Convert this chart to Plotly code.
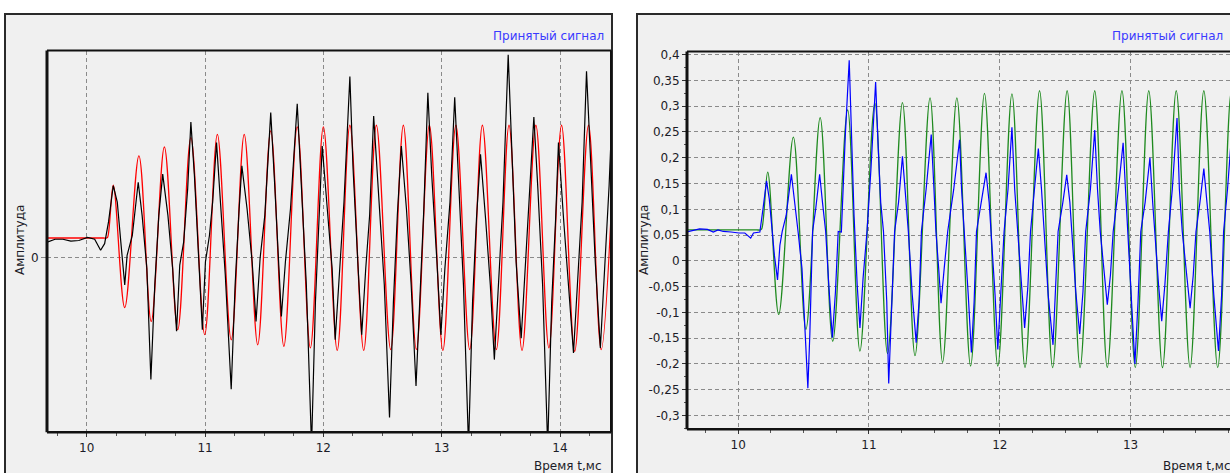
import plotly.graph_objects as go

# ---------------- left panel: reference (red) and received (black) ----------------
red_t = [9.664, 10.140, 10.165, 10.176, 10.224, 10.321, 10.441, 10.545, 10.656, 10.769,
         10.880, 10.997, 11.104, 11.221, 11.331, 11.445, 11.555, 11.666, 11.779, 11.890,
         12.000, 12.117, 12.224, 12.341, 12.448, 12.569, 12.676, 12.786, 12.896, 13.010,
         13.120, 13.237, 13.344, 13.462, 13.569, 13.679, 13.796, 13.906, 14.013, 14.124,
         14.241, 14.348, 14.465]
red_v = [0.062, 0.062, 0.062, 0.064, 0.230, -0.159, 0.323, -0.203, 0.351, -0.229,
         0.381, -0.245, 0.391, -0.261, 0.391, -0.277, 0.402, -0.282, 0.415, -0.287,
         0.415, -0.295, 0.420, -0.295, 0.420, -0.292, 0.420, -0.292, 0.420, -0.295,
         0.420, -0.292, 0.420, -0.292, 0.420, -0.295, 0.420, -0.287, 0.420, -0.298,
         0.420, -0.292, 0.420]

black_t = [9.666, 9.732, 9.799, 9.866, 9.933, 10.007, 10.067, 10.117, 10.151, 10.184,
           10.224, 10.258, 10.288, 10.321, 10.341, 10.385, 10.435, 10.468, 10.508, 10.542,
           10.575, 10.609, 10.642, 10.686, 10.726, 10.759, 10.786, 10.819, 10.853, 10.880,
           10.910, 10.943, 10.977, 11.003, 11.037, 11.064, 11.097, 11.130, 11.171, 11.221,
           11.254, 11.288, 11.311, 11.355, 11.398, 11.431, 11.465, 11.505, 11.555, 11.589,
           11.622, 11.645, 11.679, 11.722, 11.779, 11.813, 11.856, 11.900, 11.933, 11.967,
           11.990, 12.033, 12.074, 12.100, 12.134, 12.174, 12.224, 12.251, 12.291, 12.324,
           12.358, 12.391, 12.425, 12.468, 12.515, 12.559, 12.592, 12.625, 12.659, 12.702,
           12.742, 12.783, 12.816, 12.849, 12.883, 12.916, 12.960, 12.993, 13.027, 13.070,
           13.110, 13.144, 13.184, 13.227, 13.261, 13.294, 13.328, 13.371, 13.411, 13.445,
           13.478, 13.518, 13.562, 13.595, 13.629, 13.672, 13.706, 13.746, 13.779, 13.813,
           13.853, 13.896, 13.930, 13.963, 13.987, 14.030, 14.074, 14.114, 14.147, 14.187,
           14.224, 14.258, 14.298, 14.341, 14.375, 14.415, 14.441]
black_v = [0.049, 0.058, 0.058, 0.052, 0.054, 0.064, 0.058, 0.023, 0.044, 0.113,
           0.228, 0.176, 0.049, -0.087, 0.007, 0.070, 0.239, 0.134, -0.035, -0.387,
           -0.087, 0.134, 0.265, 0.134, -0.035, -0.234, -0.024, 0.049, 0.218, 0.430,
           0.260, 0.007, -0.229, -0.014, 0.070, 0.176, 0.365, 0.176, -0.056, -0.418,
           -0.087, 0.155, 0.291, 0.155, -0.014, -0.203, -0.003, 0.134, 0.460, 0.228,
           -0.014, -0.187, -0.014, 0.155, 0.488, 0.218, -0.087, -0.600, -0.140, 0.155,
           0.354, 0.155, -0.035, -0.261, -0.056, 0.176, 0.575, 0.281, -0.014, -0.245,
           -0.035, 0.134, 0.449, 0.176, -0.087, -0.508, -0.140, 0.134, 0.354, 0.155,
           -0.087, -0.408, -0.119, 0.155, 0.523, 0.260, -0.014, -0.245, -0.035, 0.176,
           0.509, 0.218, -0.087, -0.600, -0.140, 0.123, 0.328, 0.123, -0.087, -0.324,
           -0.087, 0.176, 0.644, 0.333, -0.014, -0.256, -0.035, 0.197, 0.446, 0.218,
           -0.087, -0.600, -0.140, 0.123, 0.365, 0.123, -0.087, -0.303, -0.087, 0.176,
           0.591, 0.302, -0.014, -0.287, -0.035, 0.228, 0.470]

# ---------------- right panel: reference (green) and received (blue) ----------------
green_t = [9.608, 10.140, 10.168, 10.180, 10.226, 10.310, 10.422, 10.518, 10.627, 10.723,
           10.837, 10.931, 11.045, 11.142, 11.256, 11.352, 11.467, 11.563, 11.672, 11.777,
           11.883, 11.985, 12.093, 12.193, 12.304, 12.404, 12.515, 12.614, 12.726, 12.822,
           12.934, 13.036, 13.139, 13.244, 13.349, 13.455, 13.560, 13.666, 13.771, 13.877]
green_v = [0.060, 0.060, 0.060, 0.062, 0.172, -0.104, 0.240, -0.133, 0.278, -0.156,
           0.293, -0.175, 0.306, -0.180, 0.307, -0.184, 0.316, -0.197, 0.316, -0.204,
           0.325, -0.204, 0.324, -0.207, 0.330, -0.207, 0.330, -0.207, 0.330, -0.207,
           0.330, -0.207, 0.330, -0.207, 0.330, -0.207, 0.330, -0.207, 0.330, -0.207]

blue_t = [9.608, 9.660, 9.705, 9.765, 9.810, 9.846, 9.886, 9.946, 10.006, 10.051,
          10.096, 10.117, 10.166, 10.190, 10.217, 10.238, 10.256, 10.277, 10.301, 10.319,
          10.337, 10.367, 10.407, 10.434, 10.458, 10.488, 10.509, 10.533, 10.548, 10.569,
          10.593, 10.623, 10.645, 10.669, 10.693, 10.720, 10.744, 10.765, 10.789, 10.819,
          10.849, 10.864, 10.886, 10.910, 10.931, 10.955, 10.985, 11.015, 11.051, 11.069,
          11.090, 11.111, 11.136, 11.151, 11.172, 11.196, 11.226, 11.256, 11.280, 11.301,
          11.331, 11.361, 11.383, 11.401, 11.437, 11.476, 11.497, 11.512, 11.533, 11.551,
          11.575, 11.602, 11.648, 11.693, 11.708, 11.729, 11.759, 11.783, 11.804, 11.822,
          11.858, 11.895, 11.919, 11.934, 11.964, 11.985, 12.009, 12.033, 12.063, 12.093,
          12.114, 12.136, 12.166, 12.190, 12.214, 12.235, 12.265, 12.295, 12.319, 12.340,
          12.370, 12.407, 12.425, 12.446, 12.482, 12.512, 12.536, 12.551, 12.581, 12.611,
          12.636, 12.657, 12.693, 12.726, 12.747, 12.768, 12.798, 12.822, 12.846, 12.867,
          12.907, 12.943, 12.961, 12.979, 13.009, 13.033, 13.057, 13.078, 13.111, 13.148,
          13.169, 13.184, 13.214, 13.238, 13.262, 13.289, 13.319, 13.355, 13.373, 13.395,
          13.431, 13.455, 13.479, 13.500, 13.530, 13.560, 13.584, 13.605, 13.636, 13.672,
          13.696, 13.711, 13.741, 13.771]
blue_v = [0.056, 0.060, 0.062, 0.061, 0.056, 0.060, 0.057, 0.056, 0.054, 0.054,
          0.044, 0.054, 0.056, 0.101, 0.155, 0.120, 0.062, 0.011, -0.037, 0.030,
          0.057, 0.088, 0.168, 0.113, 0.057, -0.015, -0.133, -0.247, -0.143, 0.057,
          0.101, 0.168, 0.113, 0.057, -0.047, -0.149, -0.060, 0.057, 0.056, 0.242,
          0.389, 0.254, 0.088, -0.047, -0.130, -0.034, 0.057, 0.177, 0.347, 0.229,
          0.113, 0.057, -0.079, -0.238, -0.092, 0.057, 0.113, 0.203, 0.126, 0.057,
          -0.066, -0.159, -0.079, 0.057, 0.139, 0.245, 0.139, 0.057, -0.015, -0.082,
          -0.015, 0.057, 0.139, 0.235, 0.139, 0.057, -0.066, -0.178, -0.079, 0.057,
          0.113, 0.171, 0.113, 0.057, -0.066, -0.172, -0.066, 0.057, 0.139, 0.259,
          0.139, 0.057, -0.053, -0.130, -0.053, 0.057, 0.139, 0.218, 0.139, 0.057,
          -0.066, -0.163, -0.066, 0.057, 0.113, 0.167, 0.113, 0.057, -0.060, -0.142,
          -0.060, 0.057, 0.139, 0.254, 0.139, 0.057, -0.028, -0.085, -0.028, 0.057,
          0.139, 0.229, 0.139, 0.057, -0.079, -0.200, -0.079, 0.057, 0.113, 0.200,
          0.113, 0.057, -0.047, -0.117, -0.047, 0.057, 0.139, 0.277, 0.139, 0.057,
          -0.028, -0.092, -0.028, 0.057, 0.113, 0.179, 0.113, 0.057, -0.066, -0.175,
          -0.066, 0.057, 0.139, 0.242]

# ---------------- axis ticks ----------------
time_ticks = [10, 11, 12, 13, 14]
time_labels = ["10", "11", "12", "13", "14"]
amp_ticks = [0.4, 0.35, 0.3, 0.25, 0.2, 0.15, 0.1, 0.05, 0.0,
             -0.05, -0.1, -0.15, -0.2, -0.25, -0.3]
amp_labels = ["0,4", "0,35", "0,3", "0,25", "0,2", "0,15", "0,1", "0,05", "0",
              "-0,05", "-0,1", "-0,15", "-0,2", "-0,25", "-0,3"]

W, H = 1230, 473
FONT = "DejaVu Sans"
TXT = "#1c1c28"
GRID = "#8a8a8a"
PANEL = "#f0f0f0"


def px(x):
    return x / W


def py(y):
    return 1 - y / H


fig = go.Figure()
fig.add_trace(go.Scatter(x=red_t, y=red_v, mode="lines", xaxis="x", yaxis="y",
                         line=dict(color="#ff0000", width=1.3, shape="spline", smoothing=1.0)))
fig.add_trace(go.Scatter(x=black_t, y=black_v, mode="lines", xaxis="x", yaxis="y",
                         line=dict(color="#000000", width=1.2)))
fig.add_trace(go.Scatter(x=green_t, y=green_v, mode="lines", xaxis="x2", yaxis="y2",
                         line=dict(color="#1f8a1f", width=1.3, shape="spline", smoothing=1.0)))
fig.add_trace(go.Scatter(x=blue_t, y=blue_v, mode="lines", xaxis="x2", yaxis="y2",
                         line=dict(color="#0000ff", width=1.2)))

tickfont = dict(family=FONT, size=12, color=TXT)
xcommon = dict(tickvals=time_ticks, ticktext=time_labels, showgrid=True,
               gridcolor=GRID, griddash="4px,3px", gridwidth=1, zeroline=False,
               ticks="outside", ticklen=4, tickcolor="#333333", tickfont=tickfont,
               minor=dict(dtick=0.25, ticks="outside", ticklen=3, tickcolor="#555555",
                          showgrid=False),
               showline=False, fixedrange=True)

fig.update_layout(
    width=W, height=H, margin=dict(l=0, r=0, t=0, b=0),
    paper_bgcolor="white", plot_bgcolor=PANEL, showlegend=False,
    xaxis=dict(domain=[px(47), px(611)], range=[9.664, 14.431], anchor="y", **xcommon),
    yaxis=dict(domain=[py(432), py(47)], range=[-0.555, 0.657], anchor="x",
               tickvals=[0], ticktext=["0"], showgrid=True, gridcolor=GRID,
               griddash="4px,3px", zeroline=False, ticks="outside", ticklen=5,
               tickcolor=GRID, tickfont=tickfont, showline=False, fixedrange=True),
    xaxis2=dict(domain=[px(687), 1.0], range=[9.609, 13.76], anchor="y2", **xcommon),
    yaxis2=dict(domain=[py(429), py(48)], range=[-0.327, 0.406], anchor="x2",
                tickvals=amp_ticks, ticktext=amp_labels, showgrid=True, gridcolor=GRID,
                griddash="4px,3px", zeroline=False, ticks="outside", ticklen=4,
                tickcolor="#333333", tickfont=tickfont, showline=False,
                minor=dict(dtick=0.025, ticks="outside", ticklen=2, tickcolor="#555555",
                           showgrid=False),
                fixedrange=True),
)

shapes = []
# panel frames
shapes.append(dict(type="rect", xref="paper", yref="paper", x0=px(5), x1=px(612),
                   y0=-0.05, y1=py(10), fillcolor=PANEL, line=dict(color="#2a2a2a", width=2),
                   layer="below"))
shapes.append(dict(type="rect", xref="paper", yref="paper", x0=px(637), x1=1.05,
                   y0=-0.05, y1=py(10), fillcolor=PANEL, line=dict(color="#2a2a2a", width=2),
                   layer="below"))
# plot-area borders
for xr, yr, sides in [("x domain", "y domain", ["l", "b", "t", "r"]),
                      ("x2 domain", "y2 domain", ["l", "b", "t"])]:
    for s in sides:
        if s == "l":
            c = dict(x0=0, x1=0, y0=0, y1=1, w=3)
        elif s == "b":
            c = dict(x0=0, x1=1, y0=0, y1=0, w=2.5)
        elif s == "t":
            c = dict(x0=0, x1=1, y0=1, y1=1, w=2)
        else:
            c = dict(x0=1, x1=1, y0=0, y1=1, w=2)
        shapes.append(dict(type="line", xref=xr, yref=yr, x0=c["x0"], x1=c["x1"],
                           y0=c["y0"], y1=c["y1"], line=dict(color="#111111", width=c["w"]),
                           layer="above"))
fig.update_layout(shapes=shapes)

ann = []
title_font = dict(family=FONT, size=12, color="#3a3aff")
label_font = dict(family=FONT, size=12, color=TXT)
for x_right in (606, 1225):
    ann.append(dict(text="Принятый сигнал", xref="paper", yref="paper", x=px(x_right), y=py(32),
                    xanchor="right", yanchor="middle", showarrow=False, font=title_font))
for x_right in (604, 1233):
    ann.append(dict(text="Время t,мс", xref="paper", yref="paper", x=px(x_right), y=py(466),
                    xanchor="right", yanchor="middle", showarrow=False, font=label_font))
for x_c, y_c in ((20, 238), (644, 238)):
    ann.append(dict(text="Амплитуда", xref="paper", yref="paper", x=px(x_c), y=py(y_c),
                    xanchor="center", yanchor="middle", textangle=-90, showarrow=False,
                    font=label_font))
fig.update_layout(annotations=ann)

fig.write_html("out.html")
